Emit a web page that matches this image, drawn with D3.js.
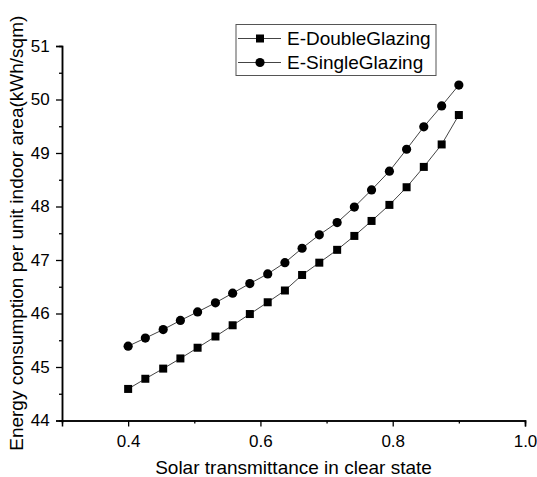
<!DOCTYPE html>
<html>
<head>
<meta charset="utf-8">
<script src="https://cdn.jsdelivr.net/npm/d3@7"></script>
<style>
  body { margin: 0; background: #fff; }
  svg { font-family: "Liberation Sans", Arial, sans-serif; }
</style>
</head>
<body>
<svg id="chart" width="537" height="477"></svg>
<script>
// Solar transmittance values (x)
const transmittance = [0.400, 0.426, 0.453, 0.479, 0.505, 0.532, 0.558, 0.584, 0.611, 0.637,
                       0.663, 0.689, 0.716, 0.742, 0.768, 0.795, 0.821, 0.847, 0.874, 0.900];
// Energy consumption per unit area, double glazing
const doubleGlazing = [44.59, 44.78, 44.97, 45.16, 45.36, 45.57, 45.78, 45.99, 46.21, 46.43,
                       46.72, 46.95, 47.19, 47.45, 47.73, 48.03, 48.36, 48.74, 49.16, 49.71];
// Energy consumption per unit area, single glazing
const singleGlazing = [45.39, 45.54, 45.70, 45.87, 46.03, 46.20, 46.38, 46.56, 46.74, 46.95,
                       47.22, 47.47, 47.70, 47.99, 48.31, 48.66, 49.07, 49.49, 49.88, 50.27];
const seriesNames = ["E-DoubleGlazing", "E-SingleGlazing"];
const xTicks = [0.4, 0.6, 0.8, 1.0];
const yTicks = [44, 45, 46, 47, 48, 49, 50, 51];

const svg = d3.select("#chart");
const margin = {left: 62, right: 12, top: 46, bottom: 57};
const width = 537, height = 477;

let x = d3.scaleLinear().domain([0.3, 1.0]).range([margin.left, 525]);
let y = d3.scaleLinear().domain([44, 51]).range([420.5, margin.top]);

// minor ticks first (short), then major
let xMinor = d3.range(0.3, 1.0001, 0.1).map(v => +v.toFixed(1)).filter(v => !xTicks.includes(v) && v > 0.3);
let yMinor = d3.range(44.5, 51, 1);

let gx = svg.append("g").attr("transform", "translate(0," + y(44) + ")");
gx.call(d3.axisBottom(x).tickValues(xMinor).tickSize(3).tickFormat(""));
gx.append("g").call(d3.axisBottom(x).tickValues(xTicks).tickSize(6).tickFormat(d3.format(".1f")));

let gy = svg.append("g").attr("transform", "translate(" + x(0.3) + ",0)");
gy.call(d3.axisLeft(y).tickValues(yMinor).tickSize(3).tickFormat(""));
gy.append("g").call(d3.axisLeft(y).tickValues(yTicks).tickSize(6).tickFormat(d3.format("d")));

svg.selectAll(".domain").attr("stroke", "#000").attr("stroke-width", 1.5);
svg.selectAll(".tick line").attr("stroke", "#000").attr("stroke-width", 1.3);
svg.selectAll(".tick text").attr("font-size", 17).attr("fill", "#000")
  .attr("font-family", '"Liberation Sans", Arial, sans-serif');
gx.selectAll(".tick text").attr("dy", "1.05em");
gy.selectAll(".tick text").attr("dx", "-0.2em");

// axis titles
svg.append("text")
  .attr("x", (x(0.3) + x(1.0)) / 2)
  .attr("y", 474)
  .attr("text-anchor", "middle")
  .attr("font-size", 19)
  .text("Solar transmittance in clear state");

svg.append("text")
  .attr("transform", "translate(23," + (y(44) + y(51)) / 2 + ") rotate(-90)")
  .attr("text-anchor", "middle")
  .attr("font-size", 19)
  .text("Energy consumption per unit indoor area(kWh/sqm)");

// series
const series = [
  {name: seriesNames[0], values: doubleGlazing, shape: "square"},
  {name: seriesNames[1], values: singleGlazing, shape: "circle"}
];

const line = d3.line()
  .x((d, i) => x(transmittance[i]))
  .y(d => y(d));

function drawMarker(g, shape, cx, cy) {
  if (shape === "square") {
    g.append("rect")
      .attr("x", cx - 4).attr("y", cy - 4)
      .attr("width", 8).attr("height", 8)
      .attr("fill", "#000");
  } else {
    g.append("circle")
      .attr("cx", cx).attr("cy", cy).attr("r", 4.6)
      .attr("fill", "#000");
  }
}

series.forEach(s => {
  svg.append("path")
    .datum(s.values)
    .attr("d", line)
    .attr("fill", "none")
    .attr("stroke", "#444")
    .attr("stroke-width", 1);
  let g = svg.append("g");
  s.values.forEach((v, i) => drawMarker(g, s.shape, x(transmittance[i]), y(v)));
});

// legend
let legend = svg.append("g");
legend.append("rect")
  .attr("x", 236).attr("y", 24.5)
  .attr("width", 200).attr("height", 51)
  .attr("fill", "#fff").attr("stroke", "#555").attr("stroke-width", 1);

series.forEach((s, i) => {
  let ly = 38.5 + i * 24;
  legend.append("line")
    .attr("x1", 238).attr("x2", 281)
    .attr("y1", ly).attr("y2", ly)
    .attr("stroke", "#444").attr("stroke-width", 1);
  drawMarker(legend, s.shape, 260, ly);
  legend.append("text")
    .attr("x", 287).attr("y", ly)
    .attr("dy", "0.35em")
    .attr("font-size", 19)
    .text(s.name);
});
</script>
</body>
</html>
